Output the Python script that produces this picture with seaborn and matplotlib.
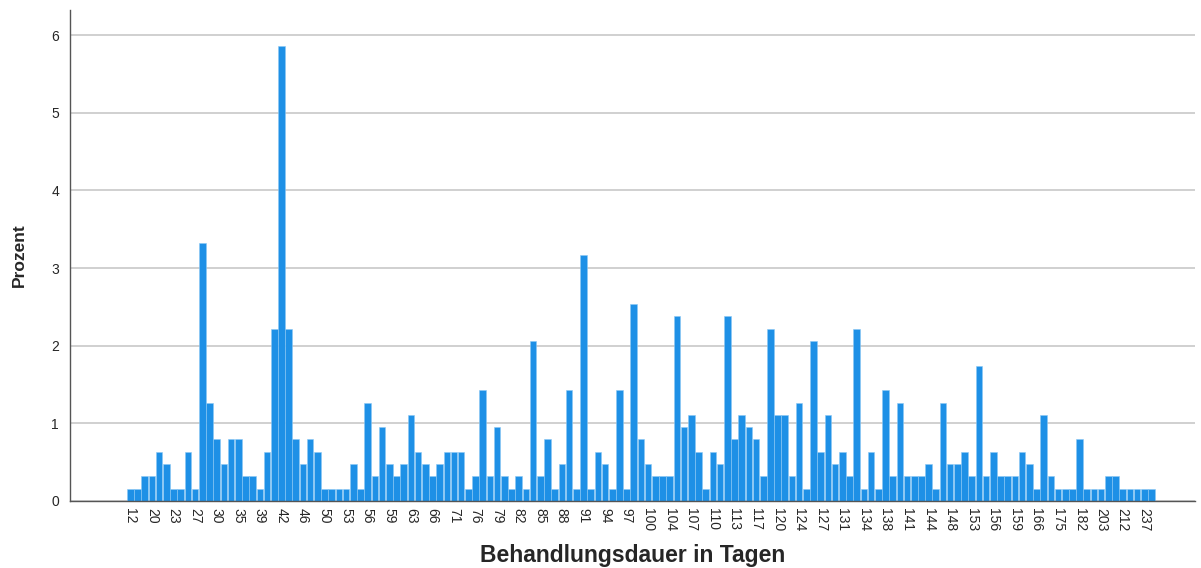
import pandas as pd
import matplotlib
matplotlib.use('Agg')
import matplotlib.pyplot as plt
import seaborn as sns

# Behandlungsdauer (Tage) - nur jede dritte Kategorie ist im Original beschriftet
tage = [12, 14, 17, 20, 21, 22, 23, 24, 26, 27,
        28, 29, 30, 32, 34, 35, 36, 38, 39, 40,
        41, 42, 43, 44, 46, 47, 49, 50, 51, 52,
        53, 54, 55, 56, 57, 58, 59, 60, 62, 63,
        64, 65, 66, 68, 70, 71, 72, 74, 76, 77,
        78, 79, 80, 81, 82, 83, 84, 85, 86, 87,
        88, 89, 90, 91, 92, 93, 94, 95, 96, 97,
        98, 99, 100, 102, 103, 104, 105, 106, 107, 108,
        109, 110, 111, 112, 113, 114, 115, 117, 118, 119,
        120, 121, 122, 124, 125, 126, 127, 128, 129, 131,
        132, 133, 134, 135, 136, 138, 139, 140, 141, 142,
        143, 144, 146, 147, 148, 150, 152, 153, 154, 155,
        156, 157, 158, 159, 161, 164, 166, 168, 170, 175,
        177, 180, 182, 189, 196, 203, 205, 210, 212, 217,
        224, 237, 245]

# Anzahl Patienten je Dauer (N = 631)
anzahl = [1, 1, 2, 2, 4, 3, 1, 1, 4, 1,
          21, 8, 5, 3, 5, 5, 2, 2, 1, 4,
          14, 37, 14, 5, 3, 5, 4, 1, 1, 1,
          1, 3, 1, 8, 2, 6, 3, 2, 3, 7,
          4, 3, 2, 3, 4, 4, 4, 1, 2, 9,
          2, 6, 2, 1, 2, 1, 13, 2, 5, 1,
          3, 9, 1, 20, 1, 4, 3, 1, 9, 1,
          16, 5, 3, 2, 2, 2, 15, 6, 7, 4,
          1, 4, 3, 15, 5, 7, 6, 5, 2, 14,
          7, 7, 2, 8, 1, 13, 4, 7, 3, 4,
          2, 14, 1, 4, 1, 9, 2, 8, 2, 2,
          2, 3, 1, 8, 3, 3, 4, 2, 11, 2,
          4, 2, 2, 2, 4, 3, 1, 7, 2, 1,
          1, 1, 5, 1, 1, 1, 2, 2, 1, 1,
          1, 1, 1]

df = pd.DataFrame({'Tage': [str(t) for t in tage], 'Anzahl': anzahl})
df['Prozent'] = df['Anzahl'] / df['Anzahl'].sum() * 100

sns.set_style('white')
plt.rcParams['font.family'] = ['Liberation Sans', 'DejaVu Sans']

fig = plt.figure(figsize=(12.01, 5.68), dpi=100)
ax = fig.add_axes([0.0583, 0.118, 0.937, 0.864])

sns.barplot(data=df, x='Tage', y='Prozent', color='#1e90e6', saturation=1,
            width=0.92, edgecolor='#8cc8f4', linewidth=0.4, ax=ax)

n = len(tage)
ax.set_xlim(-8.4, n - 0.5 + 5.6)
ax.set_ylim(0, 6.32)
ax.set_yticks(range(0, 7))
ax.yaxis.grid(True, color='#c8c8c8', linewidth=1.2)
ax.set_axisbelow(True)

ax.set_xticks(range(0, n, 3))
ax.set_xticklabels([str(tage[i]) for i in range(0, n, 3)], rotation=-90, fontsize=10)
ax.tick_params(axis='x', length=0, pad=5)
ax.tick_params(axis='y', length=0, pad=8, labelsize=10)

for s in ['top', 'right']:
    ax.spines[s].set_visible(False)
ax.spines['left'].set_color('#555555')
ax.spines['bottom'].set_color('#555555')
ax.spines['left'].set_linewidth(1)
ax.spines['bottom'].set_linewidth(1)

ax.set_xlabel('Behandlungsdauer in Tagen', fontsize=16.5, fontweight='bold', labelpad=9)
ax.set_ylabel('Prozent', fontsize=12.5, fontweight='bold')
ax.yaxis.set_label_coords(-0.038, 0.5)

plt.savefig('out.png', dpi=100)
